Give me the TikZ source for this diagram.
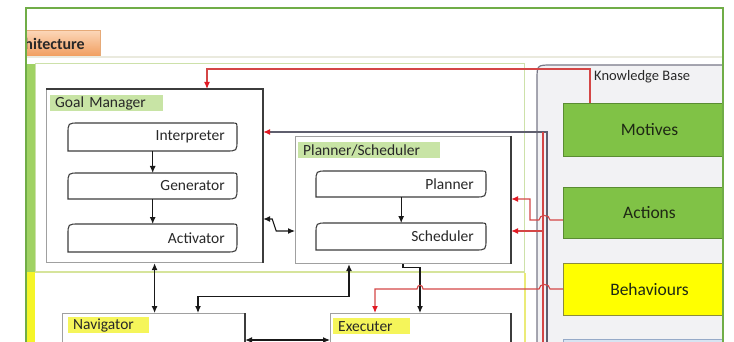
\documentclass[tikz,border=0pt]{standalone}
\usepackage{fontspec}
\setmainfont{Carlito}
\usetikzlibrary{arrows.meta,calc}
\definecolor{frameG}{RGB}{112,173,71}
\definecolor{barG}{RGB}{160,210,100}
\definecolor{regG}{RGB}{205,225,170}
\definecolor{barY}{RGB}{245,245,40}
\definecolor{regY}{RGB}{235,235,120}
\definecolor{tabT}{RGB}{252,215,185}
\definecolor{tabB}{RGB}{240,155,90}
\definecolor{tabD}{RGB}{230,170,120}
\definecolor{bandC}{RGB}{234,234,222}
\definecolor{kbF}{RGB}{242,242,244}
\definecolor{kbD}{RGB}{120,120,135}
\definecolor{motF}{RGB}{128,194,70}
\definecolor{motD}{RGB}{90,140,50}
\definecolor{behF}{RGB}{255,255,0}
\definecolor{behD}{RGB}{140,140,60}
\definecolor{bluF}{RGB}{215,228,242}
\definecolor{bluD}{RGB}{150,170,200}
\definecolor{hlG}{RGB}{200,228,165}
\definecolor{hlY}{RGB}{245,245,90}
\definecolor{boxL}{RGB}{160,160,160}
\definecolor{boxD}{RGB}{60,60,60}
\definecolor{txt}{RGB}{40,40,40}
\definecolor{kbtxt}{RGB}{30,40,20}
\definecolor{lineR}{RGB}{212,70,70}
\definecolor{tipR}{RGB}{225,25,35}
\definecolor{lineG}{RGB}{95,95,110}
\definecolor{lineK}{RGB}{25,25,25}
\tikzset{
  lbl/.style={font=\fontsize{15.5}{18}\selectfont, text=txt, inner sep=0pt},
  kbl/.style={font=\fontsize{17.5}{20}\selectfont, text=kbtxt},
  kbitem/.style={anchor=north west, minimum width=172, inner sep=0pt, line width=1pt, kbl},
  outerbox/.style={draw=boxL, line width=1.2pt, fill=white, inner sep=0pt, anchor=north west},
  hl/.style={anchor=north west, inner xsep=5pt, inner ysep=0pt, minimum height=16,
             align=left, font=\fontsize{15.5}{18}\selectfont, text=txt},
  ibox/.style={draw=boxD, line width=1.1pt, fill=white},
  blk/.style={draw=lineK, line width=1.1pt},
  redc/.style={draw=lineR, line width=1.1pt},
  grayc/.style={draw=lineG, line width=1.1pt},
  >={Latex[length=7pt,width=6pt]},
  redarrow/.style={-{Latex[length=7pt,width=6pt,color=tipR]}},
  darkedge/.style={draw=boxD, line width=1.8pt}
}
\newcommand\innerbox[6]{%
  \node[draw=none, inner sep=0pt, minimum width={(#4)-(#2)}, minimum height={(#5)-(#3)}, anchor=north west] (#1) at (#2,#3) {};
  \draw[ibox] (#2,#5) -- (#2,#3+11) .. controls (#2,#3) .. (#2+11,#3) -- (#4-5,#3)
     .. controls (#4,#3) .. (#4,#3+5) -- (#4,#5-11) .. controls (#4,#5) .. (#4-11,#5) -- cycle;
  \node[lbl, anchor=east] (#1-t) at (#4-12,{(#3+#5)/2}) {#6};
}
\begin{document}
\begin{tikzpicture}[x=1pt,y=-1pt]
\useasboundingbox (0,0) rectangle (734,342);
\clip (0,0) rectangle (734,342);

% tab
\begin{scope}
  \clip (27,0) rectangle (200,100);
  \node[anchor=north east, minimum width=120, minimum height=27, inner sep=0pt,
        top color=tabT, bottom color=tabB, draw=tabD, line width=0.8pt] (tab) at (101,30) {};
  \node[anchor=east, inner sep=0pt, font=\bfseries\fontsize{16}{18}\selectfont, text=txt] (tabt) at (85,44) {Architecture};
\end{scope}
\draw[bandC, line width=2pt] (26,57) -- (723,57);

% regions
\draw[regG, line width=1pt, fill=white] (35,64) rectangle (524,272);
\fill[barG] (26,64) rectangle (35,272);
\fill[barY] (26,272) rectangle (35,342);
\draw[regY, line width=1.2pt] (525,273) -- (525,342);
\draw[regG!70!regY, line width=1.2pt] (35,272) -- (524,272);

% knowledge base
\begin{scope}
  \clip (0,0) rectangle (723,342);
  \fill[kbF] (537,350) -- (537,80) .. controls (537,65) .. (552,65) -- (740,65) -- (740,350) -- cycle;
  \draw[kbD, line width=1.2pt] (537,350) -- (537,80) .. controls (537,65) .. (552,65) -- (740,65);
  \node[anchor=west, font=\fontsize{14.5}{17}\selectfont, text=txt, inner sep=0pt] (kbt) at (594,77) {Knowledge Base};
  \node[kbitem, fill=motF, draw=motD, minimum height=53] (motv) at (563,103) {Motives};
  \node[kbitem, fill=motF, draw=motD, minimum height=51] (actn) at (563,187) {Actions};
  \node[kbitem, fill=behF, draw=behD, minimum height=52] (behv) at (563,263) {Behaviours};
  \node[kbitem, fill=bluF, draw=bluD, minimum height=30] (kbfour) at (563,339) {};
\end{scope}

% Goal manager
\node[outerbox, minimum width=216, minimum height=173] (gm) at (46,89) {};
\draw[darkedge] (gm.north west) -- (gm.north east) -- (gm.south east);
\node[hl, fill=hlG, text width=103] (gmt) at (50,95) {Goal Manager};
\innerbox{interp}{68}{123}{237}{151}{Interpreter}
\innerbox{gen}{68}{173}{237}{199}{Generator}
\innerbox{actv}{68}{224}{237}{252}{Activator}

% Planner / Scheduler
\node[outerbox, minimum width=215, minimum height=127] (ps) at (295,136) {};
\draw[darkedge] (ps.north east) -- (ps.south east);
\node[hl, fill=hlG, text width=132] (pst) at (298,142) {Planner/Scheduler};
\innerbox{plan}{316}{171}{486}{197}{Planner}
\innerbox{sched}{316}{223}{486}{250}{Scheduler}

% Navigator / Executer
\node[outerbox, minimum width=182, minimum height=60] (nav) at (62,313) {};
\draw[darkedge] (nav.north east) -- (nav.south east);
\node[hl, fill=hlY, text width=71] (navt) at (68,317) {Navigator};
\node[outerbox, minimum width=180, minimum height=60] (exe) at (330,313) {};
\draw[darkedge] (exe.north east) -- (exe.south east);
\node[hl, fill=hlY, text width=67] (exet) at (333,318) {Executer};

% black connectors
\draw[blk,->] (interp.south) -- (gen.north);
\draw[blk,->] (gen.south) -- (actv.north);
\draw[blk,->] (plan.south) -- (sched.north);
\draw[blk,<->] (gm.south) -- (gm.south |- nav.north);
\draw[blk,<->] ([xshift=54pt]ps.south west) -- ++(0,32) -| ([xshift=136pt]nav.north west);
\draw[blk,<->] ([yshift=-27pt]nav.north east) -- ([yshift=-27pt]exe.north west);
\draw[blk,<->] ([yshift=-130pt]gm.north east) -- ++(9,0) -- ++(4,12) -- ([yshift=-95pt]ps.north west);
\draw[blk,->] ([xshift=108pt]ps.south west) -- ++(0,3) -| ([xshift=90pt]exe.north west);

% knowledge-base connectors
\coordinate (gbot) at (547,342);
\coordinate (rbot) at (543,342);
\coordinate (rtop) at (543,132);
\coordinate (rj) at (543,231);
\draw[grayc,redarrow] (gbot) |- ([yshift=-43pt]gm.north east);
\draw[redc] (rbot) -- (rtop);
\draw[redc,redarrow] (rj) -- ([yshift=-95pt]ps.north east);
\draw[redc,redarrow] ([xshift=27pt]motv.north west) -- ++(0,-34) -| ([xshift=161pt]gm.north west);
\draw[redc,redarrow] ([yshift=-33pt]actn.north west) -- ++(-13,0)
   .. controls +(0,-6) and +(0,-6) .. ++(-11,0) -- ++(-9,0) |- ([yshift=-63pt]ps.north east);
\draw[redc,redarrow] ([yshift=-26pt]behv.north west) -- ++(-13,0)
   .. controls +(0,-6) and +(0,-6) .. ++(-11,0) -- (423,289)
   .. controls +(0,-5) and +(0,-5) .. (417,289) -| ([xshift=45pt]exe.north west);

% outer frame
\draw[frameG, line width=1.3pt] (26,342) -- (26,8) -- (723,8) -- (723,342);
\end{tikzpicture}
\end{document}
